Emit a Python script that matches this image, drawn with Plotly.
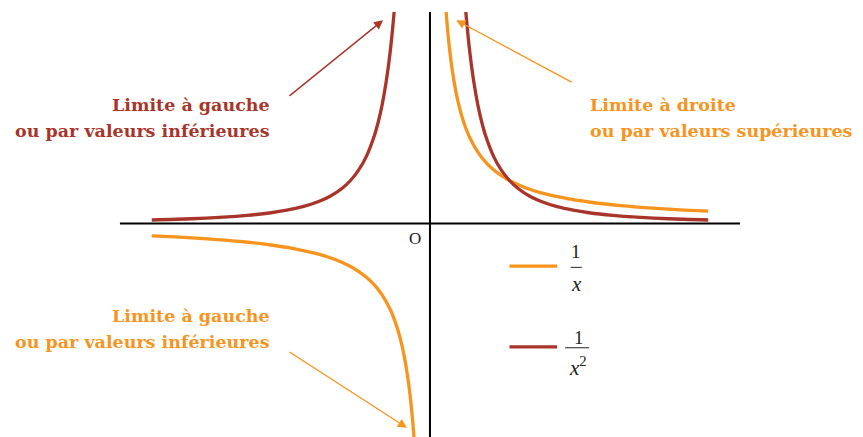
import plotly.graph_objects as go

# ---------------- data ----------------
# 1/x, right branch (x > 0) and left branch (x < 0)
inv_x_pos = [0.19, 0.2, 0.22, 0.25, 0.28, 0.32, 0.36, 0.4, 0.45, 0.5, 0.6, 0.7, 0.8, 0.9,
             1.0, 1.2, 1.4, 1.7, 2.0, 2.4, 2.8, 3.2, 3.5]
inv_y_pos = [5.263, 5.0, 4.545, 4.0, 3.571, 3.125, 2.778, 2.5, 2.222, 2.0, 1.667, 1.429, 1.25, 1.111,
             1.0, 0.833, 0.714, 0.588, 0.5, 0.417, 0.357, 0.3125, 0.286]
inv_x_neg = [-3.5, -3.2, -2.8, -2.4, -2.0, -1.7, -1.4, -1.2, -1.0, -0.9, -0.8, -0.7, -0.6, -0.5,
             -0.45, -0.4, -0.36, -0.32, -0.28, -0.25, -0.22, -0.2, -0.19]
inv_y_neg = [-0.286, -0.3125, -0.357, -0.417, -0.5, -0.588, -0.714, -0.833, -1.0, -1.111, -1.25,
             -1.429, -1.667, -2.0, -2.222, -2.5, -2.778, -3.125, -3.571, -4.0, -4.545, -5.0, -5.263]

# 1/x^2, right branch and left branch
sq_x_pos = [0.42, 0.45, 0.5, 0.55, 0.6, 0.65, 0.7, 0.8, 0.9, 1.0, 1.1, 1.25, 1.4, 1.6, 1.8,
            2.0, 2.3, 2.6, 3.0, 3.5]
sq_y_pos = [5.669, 4.938, 4.0, 3.306, 2.778, 2.367, 2.041, 1.5625, 1.235, 1.0, 0.826, 0.64, 0.510,
            0.391, 0.309, 0.25, 0.189, 0.148, 0.111, 0.0816]
sq_x_neg = [-3.5, -3.0, -2.6, -2.3, -2.0, -1.8, -1.6, -1.4, -1.25, -1.1, -1.0, -0.9, -0.8, -0.7,
            -0.65, -0.6, -0.55, -0.5, -0.45, -0.42]
sq_y_neg = [0.0816, 0.111, 0.148, 0.189, 0.25, 0.309, 0.391, 0.510, 0.64, 0.826, 1.0, 1.235,
            1.5625, 2.041, 2.367, 2.778, 3.306, 4.0, 4.938, 5.669]

label_left = ["Limite à gauche", "ou par valeurs inférieures"]
label_right = ["Limite à droite", "ou par valeurs supérieures"]

ORANGE = "#F7941E"
RED = "#A8342A"
SERIF_BOLD = "DejaVu Serif"
MATH = "Liberation Serif"

fig = go.Figure()

def curve(xs, ys, color):
    fig.add_trace(go.Scatter(x=xs, y=ys, mode="lines", line=dict(color=color, width=3.3, shape="spline", smoothing=0.8),
                             showlegend=False, hoverinfo="skip"))

curve(inv_x_pos, inv_y_pos, ORANGE)
curve(inv_x_neg, inv_y_neg, ORANGE)
curve(sq_x_pos, sq_y_pos, RED)
curve(sq_x_neg, sq_y_neg, RED)

# axes
fig.add_shape(type="line", x0=-3.9, x1=3.9, y0=0, y1=0, line=dict(color="black", width=2), layer="below")
fig.add_shape(type="line", x0=0, x1=0, y0=-4.965, y1=4.919, line=dict(color="black", width=2), layer="below")

fig.add_annotation(x=-0.19, y=-0.34, text="O", showarrow=False,
                   font=dict(family=MATH, size=17, color="#222"))

# labels
def label(lines, x, ys, color, anchor):
    for t, y in zip(lines, ys):
        fig.add_annotation(x=x, y=y, text="<b>" + t + "</b>", showarrow=False, xanchor=anchor,
                           yanchor="middle", font=dict(family=SERIF_BOLD, size=17.5, color=color))

label(label_left, -1.99, [2.756, 2.151], RED, "right")
label(label_right, 1.99, [2.756, 2.151], ORANGE, "left")
label(label_left, -1.99, [-2.151, -2.756], ORANGE, "right")

# arrows
def arrow(x, y, ax, ay, color):
    fig.add_annotation(x=x, y=y, ax=ax, ay=ay, xref="x", yref="y", axref="x", ayref="y", text="",
                       showarrow=True, arrowhead=2, arrowsize=1.3, arrowwidth=1.4, arrowcolor=color,
                       standoff=0, startstandoff=0)

arrow(-0.59, 4.73, -1.786, 2.94, RED)
arrow(0.33, 4.73, 1.80, 3.27, ORANGE)
arrow(-0.29, -4.75, -1.786, -2.965, ORANGE)

# legend
fig.add_trace(go.Scatter(x=[1.0, 1.6], y=[-0.99, -0.99], mode="lines", line=dict(color=ORANGE, width=3.3),
                         showlegend=False, hoverinfo="skip"))
fig.add_trace(go.Scatter(x=[1.0, 1.6], y=[-2.87, -2.87], mode="lines", line=dict(color=RED, width=3.3),
                         showlegend=False, hoverinfo="skip"))

fig.add_annotation(x=1.84, y=-0.64, text="1", showarrow=False, font=dict(family=MATH, size=19, color="#222"))
fig.add_shape(type="line", x0=1.77, x1=1.91, y0=-1.02, y1=-1.02, line=dict(color="#222", width=1))
fig.add_annotation(x=1.84, y=-1.4, text="<i>x</i>", showarrow=False, font=dict(family=MATH, size=21, color="#222"))

fig.add_annotation(x=1.87, y=-2.66, text="1", showarrow=False, font=dict(family=MATH, size=19, color="#222"))
fig.add_shape(type="line", x0=1.70, x1=2.0, y0=-2.89, y1=-2.89, line=dict(color="#222", width=1))
fig.add_annotation(x=1.86, y=-3.32, text="<i>x</i><sup>2</sup>", showarrow=False,
                   font=dict(family=MATH, size=21, color="#222"))

# page body has an 8px margin: the figure sits at (8, 8) in the window
fig.update_layout(
    width=855, height=429,
    margin=dict(l=0, r=0, t=4, b=0),
    paper_bgcolor="white", plot_bgcolor="white",
    xaxis=dict(range=[-5.308, 5.447], visible=False, fixedrange=True),
    yaxis=dict(range=[-4.965, 4.919], visible=False, fixedrange=True),
    showlegend=False,
)

fig.write_html("out.html")
